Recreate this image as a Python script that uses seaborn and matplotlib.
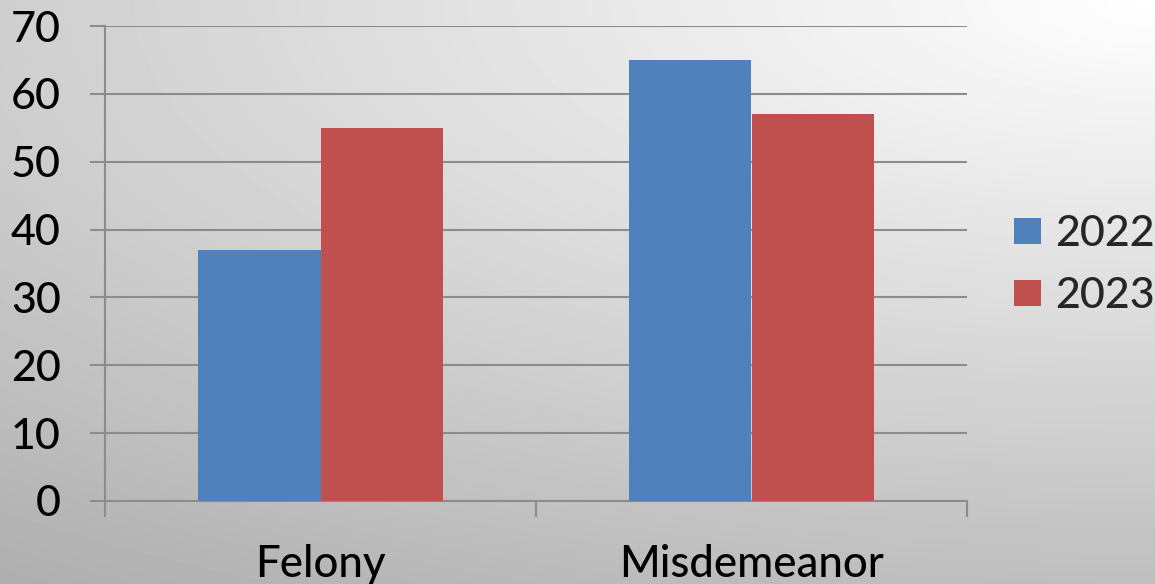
import numpy as np
import pandas as pd
import matplotlib
matplotlib.use("Agg")
import matplotlib.pyplot as plt
from matplotlib.patches import Patch
import seaborn as sns

# Case counts by offense class and year
categories = ["Felony", "Misdemeanor"]
years = ["2022", "2023"]
values_2022 = [37, 65]
values_2023 = [55, 57]
y_ticks = [0, 10, 20, 30, 40, 50, 60, 70]

colors = ["#4F81BD", "#C0504D"]
grid_color = "#8C8C8C"

df = pd.DataFrame({
    "category": categories * 2,
    "year": [years[0]] * 2 + [years[1]] * 2,
    "value": values_2022 + values_2023,
})

sns.set_theme(style="white")
plt.rcParams["font.family"] = ["Lato", "DejaVu Sans"]
plt.rcParams["font.weight"] = "medium"

W, H, DPI = 1155, 584, 100
fig = plt.figure(figsize=(W / DPI, H / DPI), dpi=DPI)

# Soft grey background, brightest at the top-right corner
bg = fig.add_axes([0, 0, 1, 1], zorder=-10)
xx, yy = np.meshgrid(np.arange(W), np.arange(H))
dx = (W - xx) / W
dy = yy / H
shade = 1 - np.sqrt((0.19 * dx) ** 2 + (0.255 * dy) ** 2)
bg.imshow(shade, cmap="gray", vmin=0, vmax=1, aspect="auto",
          extent=[0, 1, 0, 1], interpolation="bilinear")
bg.set_axis_off()

ax = fig.add_axes([105 / W, 1 - 501 / H, (967 - 105) / W, (501 - 26) / H])
ax.set_facecolor("none")

sns.barplot(data=df, x="category", y="value", hue="year", hue_order=years,
            palette=colors, saturation=1, width=0.57, ax=ax, legend=False,
            linewidth=0, zorder=3)

ax.set_xlim(-0.5, 1.5)
ax.set_ylim(0, 70)
ax.set_yticks(y_ticks)
ax.set_xlabel("")
ax.set_ylabel("")

for s in ["top", "right"]:
    ax.spines[s].set_visible(False)
for s in ["left", "bottom"]:
    ax.spines[s].set_color(grid_color)
    ax.spines[s].set_linewidth(1.5)

ax.yaxis.grid(True, color=grid_color, linewidth=1.5, zorder=0)
ax.set_axisbelow(True)

ax.tick_params(axis="y", which="major", length=10.8, width=1.5,
               color=grid_color, direction="out", pad=21, labelsize=31,
               labelcolor="black", left=True)
ax.set_xticks([0, 1])
ax.set_xticklabels(categories)
ax.set_xticks([-0.5, 0.5, 1.5], minor=True)
ax.tick_params(axis="x", which="major", length=0, pad=31, labelsize=31.5,
               labelcolor="black")
ax.tick_params(axis="x", which="minor", length=11.5, width=1.5,
               color=grid_color, direction="out", bottom=True)

handles = [Patch(facecolor=c, edgecolor="none") for c in colors]
fig.legend(handles, years, loc="center left",
           bbox_to_anchor=(1014 / W, 1 - 265 / H), frameon=False,
           fontsize=31, handlelength=0.63, handleheight=0.56,
           handletextpad=0.33, labelspacing=0.56, borderpad=0,
           borderaxespad=0)

fig.savefig("out.png", dpi=DPI)
